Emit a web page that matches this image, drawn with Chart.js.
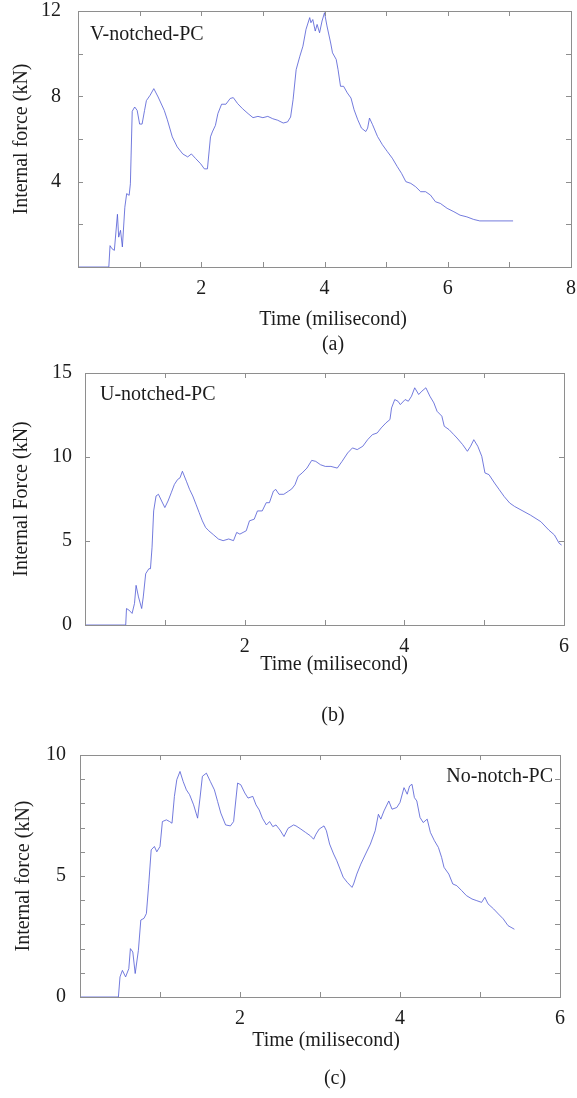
<!DOCTYPE html>
<html>
<head>
<meta charset="utf-8">
<script src="https://cdn.jsdelivr.net/npm/chart.js@4.4.1/dist/chart.umd.min.js"></script>
<style>
  html, body { margin: 0; padding: 0; background: #fff; }
  body { width: 577px; height: 1098px; position: relative; overflow: hidden; }
  .panel { position: absolute; left: 0; width: 577px; }
  canvas { display: block; }
</style>
</head>
<body>
<div class="panel" style="top:0"><canvas id="chartA" width="577" height="360"></canvas></div>
<div class="panel" style="top:360px"><canvas id="chartB" width="577" height="370"></canvas></div>
<div class="panel" style="top:730px"><canvas id="chartC" width="577" height="368"></canvas></div>
<script>
// (a) V-notched-PC
const vTime = [0, 0.50, 0.52, 0.55, 0.59, 0.64, 0.66, 0.69, 0.72, 0.76, 0.79, 0.83, 0.85, 0.88, 0.92, 0.96, 1.00, 1.04, 1.08, 1.11, 1.17, 1.23, 1.30, 1.40, 1.45, 1.53, 1.61, 1.70, 1.78, 1.84, 1.91, 1.99, 2.05, 2.10, 2.15, 2.18, 2.23, 2.27, 2.33, 2.40, 2.47, 2.52, 2.59, 2.67, 2.76, 2.84, 2.92, 3.00, 3.08, 3.16, 3.24, 3.33, 3.40, 3.45, 3.49, 3.54, 3.60, 3.65, 3.70, 3.76, 3.78, 3.81, 3.85, 3.88, 3.92, 3.96, 4.00, 4.04, 4.10, 4.13, 4.19, 4.22, 4.26, 4.31, 4.37, 4.43, 4.48, 4.54, 4.60, 4.67, 4.70, 4.73, 4.78, 4.86, 4.94, 5.02, 5.10, 5.18, 5.25, 5.32, 5.40, 5.48, 5.56, 5.64, 5.72, 5.80, 5.88, 5.99, 6.10, 6.20, 6.31, 6.42, 6.52, 7.06]
const vForce = [0, 0, 1.0, 0.86, 0.78, 2.47, 1.4, 1.72, 0.94, 2.8, 3.44, 3.36, 3.9, 7.3, 7.5, 7.34, 6.7, 6.7, 7.34, 7.8, 8.05, 8.36, 7.97, 7.34, 6.9, 6.1, 5.63, 5.3, 5.16, 5.3, 5.08, 4.84, 4.6, 4.6, 6.1, 6.33, 6.64, 7.19, 7.63, 7.63, 7.9, 7.94, 7.66, 7.42, 7.19, 7.0, 7.06, 7.0, 7.06, 6.95, 6.88, 6.75, 6.8, 7.03, 7.84, 9.25, 9.88, 10.35, 11.14, 11.69, 11.45, 11.6, 11.06, 11.37, 10.98, 11.53, 11.92, 11.3, 10.5, 10.04, 9.73, 9.25, 8.47, 8.47, 8.16, 7.92, 7.37, 6.9, 6.51, 6.35, 6.51, 6.98, 6.67, 6.12, 5.73, 5.41, 5.1, 4.71, 4.39, 4.0, 3.92, 3.76, 3.53, 3.53, 3.37, 3.06, 2.98, 2.75, 2.59, 2.43, 2.35, 2.23, 2.16, 2.16]
const vXLabels = [2, 4, 6, 8]
const vYLabels = [4, 8, 12]

// (b) U-notched-PC
const uTime = [0, 0.51, 0.52, 0.55, 0.59, 0.62, 0.64, 0.67, 0.71, 0.73, 0.76, 0.80, 0.82, 0.84, 0.86, 0.89, 0.92, 0.96, 1.00, 1.04, 1.08, 1.12, 1.16, 1.19, 1.22, 1.27, 1.31, 1.35, 1.39, 1.43, 1.47, 1.51, 1.55, 1.61, 1.67, 1.73, 1.80, 1.86, 1.90, 1.94, 1.98, 2.02, 2.06, 2.12, 2.16, 2.22, 2.27, 2.31, 2.36, 2.39, 2.43, 2.49, 2.55, 2.59, 2.63, 2.67, 2.72, 2.78, 2.84, 2.89, 2.95, 3.01, 3.08, 3.16, 3.22, 3.29, 3.35, 3.41, 3.48, 3.54, 3.60, 3.66, 3.71, 3.77, 3.82, 3.84, 3.88, 3.92, 3.95, 4.01, 4.05, 4.09, 4.13, 4.18, 4.22, 4.27, 4.32, 4.37, 4.41, 4.47, 4.50, 4.56, 4.62, 4.66, 4.73, 4.79, 4.83, 4.87, 4.92, 4.97, 5.01, 5.06, 5.13, 5.19, 5.25, 5.32, 5.38, 5.58, 5.71, 5.81, 5.88, 5.94, 5.97]
const uForce = [0, 0, 0.98, 0.89, 0.69, 1.28, 2.36, 1.67, 0.98, 1.67, 3.05, 3.35, 3.35, 4.63, 6.79, 7.68, 7.78, 7.38, 6.99, 7.38, 7.87, 8.37, 8.66, 8.76, 9.15, 8.56, 8.07, 7.68, 7.19, 6.69, 6.2, 5.81, 5.61, 5.37, 5.12, 5.02, 5.12, 5.02, 5.51, 5.41, 5.51, 5.61, 6.2, 6.3, 6.79, 6.79, 7.28, 7.28, 7.97, 8.07, 7.78, 7.78, 7.97, 8.1, 8.35, 8.85, 9.05, 9.34, 9.8, 9.74, 9.54, 9.44, 9.44, 9.34, 9.74, 10.24, 10.54, 10.44, 10.64, 11.03, 11.33, 11.43, 11.73, 12.03, 12.23, 12.92, 13.42, 13.32, 13.12, 13.42, 13.32, 13.62, 14.12, 13.72, 13.92, 14.12, 13.62, 13.22, 12.72, 12.43, 11.83, 11.63, 11.33, 11.13, 10.74, 10.34, 10.64, 11.03, 10.64, 10.04, 9.05, 8.95, 8.45, 8.05, 7.65, 7.26, 7.06, 6.54, 6.15, 5.65, 5.36, 4.86, 4.76]
const uXLabels = [2, 4, 6]
const uYLabels = [0, 5, 10, 15]

// (c) No-notch-PC
const nTime = [0, 0.48, 0.50, 0.53, 0.57, 0.61, 0.63, 0.66, 0.69, 0.73, 0.76, 0.80, 0.83, 0.86, 0.89, 0.93, 0.96, 1.00, 1.03, 1.08, 1.12, 1.15, 1.18, 1.21, 1.25, 1.29, 1.33, 1.37, 1.42, 1.47, 1.50, 1.53, 1.58, 1.63, 1.68, 1.72, 1.76, 1.82, 1.88, 1.92, 1.97, 2.01, 2.06, 2.10, 2.16, 2.20, 2.24, 2.28, 2.33, 2.37, 2.41, 2.45, 2.50, 2.55, 2.60, 2.67, 2.70, 2.76, 2.82, 2.88, 2.92, 2.95, 2.99, 3.05, 3.08, 3.12, 3.17, 3.21, 3.25, 3.29, 3.34, 3.40, 3.42, 3.46, 3.51, 3.57, 3.63, 3.69, 3.73, 3.76, 3.80, 3.86, 3.90, 3.96, 4.00, 4.05, 4.09, 4.12, 4.15, 4.18, 4.21, 4.25, 4.29, 4.34, 4.38, 4.43, 4.48, 4.52, 4.55, 4.61, 4.66, 4.71, 4.77, 4.83, 4.90, 4.96, 5.02, 5.06, 5.10, 5.17, 5.23, 5.29, 5.35, 5.43]
const nForce = [0, 0, 0.83, 1.1, 0.83, 1.17, 2.0, 1.86, 0.97, 1.93, 3.18, 3.25, 3.45, 4.7, 6.08, 6.22, 6.0, 6.22, 7.25, 7.32, 7.25, 7.18, 8.29, 8.98, 9.32, 8.9, 8.56, 8.36, 7.94, 7.39, 8.22, 9.12, 9.25, 8.9, 8.56, 8.08, 7.6, 7.11, 7.07, 7.25, 8.84, 8.77, 8.43, 8.22, 8.29, 7.94, 7.73, 7.39, 7.11, 7.25, 7.04, 7.11, 6.9, 6.63, 6.97, 7.11, 7.07, 6.94, 6.8, 6.66, 6.52, 6.73, 6.94, 7.07, 6.87, 6.32, 5.91, 5.63, 5.29, 4.95, 4.74, 4.53, 4.67, 5.08, 5.49, 5.91, 6.32, 6.87, 7.55, 7.35, 7.69, 8.1, 7.76, 7.83, 8.04, 8.65, 8.38, 8.72, 8.79, 8.24, 8.1, 7.42, 7.21, 7.35, 6.8, 6.46, 6.18, 5.77, 5.36, 5.08, 4.67, 4.6, 4.4, 4.19, 4.05, 3.98, 3.91, 4.12, 3.85, 3.64, 3.43, 3.23, 2.95, 2.8]
const nXLabels = [2, 4, 6]
const nYLabels = [0, 5, 10]

const axisColor = "#8e8e8e"
const textColor = "#1c1c1c"
const lineColor = "rgba(80, 90, 212, 0.8)"
const serif = "'Liberation Serif', 'Times New Roman', serif"

function points(times, forces) {
  const n = Math.min(times.length, forces.length)
  return times.slice(0, n).map((t, i) => ({ x: t, y: forces[i] }))
}

// box around the plot, inward tick marks on all four sides, titles
const panelFrame = {
  id: "panelFrame",
  afterDraw(chart, args, o) {
    const { ctx, chartArea: a, scales: { x, y } } = chart
    ctx.save()
    ctx.strokeStyle = axisColor
    ctx.lineWidth = 1
    ctx.strokeRect(Math.round(a.left) + 0.5, Math.round(a.top) + 0.5, Math.round(a.right - a.left), Math.round(a.bottom - a.top))

    ctx.beginPath()
    x.ticks.forEach((t) => {
      const px = Math.round(x.getPixelForValue(t.value)) + 0.5
      if (px <= a.left + 1 || px >= a.right - 1) return
      ctx.moveTo(px, a.bottom); ctx.lineTo(px, a.bottom - 5)
      ctx.moveTo(px, a.top); ctx.lineTo(px, a.top + 5)
    })
    y.ticks.forEach((t) => {
      const py = Math.round(y.getPixelForValue(t.value)) + 0.5
      if (py <= a.top + 1 || py >= a.bottom - 1) return
      ctx.moveTo(a.left, py); ctx.lineTo(a.left + 5, py)
      ctx.moveTo(a.right, py); ctx.lineTo(a.right - 5, py)
    })
    ctx.stroke()

    ctx.fillStyle = textColor
    ctx.font = `20px ${serif}`
    ctx.textAlign = "center"
    ctx.textBaseline = "middle"
    ctx.fillText(o.xTitle, o.xTitleX, o.xTitleY)
    ctx.fillText(o.caption, o.captionX, o.captionY)

    ctx.save()
    ctx.translate(o.yTitleX, o.yTitleY)
    ctx.rotate(-Math.PI / 2)
    ctx.fillText(o.yTitle, 0, 0)
    ctx.restore()

    ctx.textAlign = o.noteAlign
    ctx.textBaseline = "alphabetic"
    ctx.fillText(o.note, o.noteX, o.noteY)
    ctx.restore()
  }
}

function drawPanel(canvasId, cfg) {
  const canvas = document.getElementById(canvasId)
  const H = canvas.height
  const tickFont = { family: serif, size: 20 }

  return new Chart(canvas, {
    type: "line",
    data: {
      datasets: [{
        data: points(cfg.time, cfg.force),
        borderColor: lineColor,
        borderWidth: 1,
        pointRadius: 0,
        tension: 0,
        fill: false
      }]
    },
    options: {
      responsive: false,
      animation: false,
      devicePixelRatio: 1,
      layout: { padding: { left: 0, top: cfg.area.top, right: 577 - cfg.area.right, bottom: 0 } },
      plugins: {
        legend: { display: false },
        tooltip: { enabled: false },
        panelFrame: cfg.text
      },
      scales: {
        x: {
          type: "linear",
          min: 0,
          max: cfg.xMax,
          grid: { display: false },
          border: { display: false },
          ticks: {
            stepSize: 1,
            autoSkip: false,
            maxRotation: 0,
            padding: cfg.xPad,
            color: textColor,
            font: tickFont,
            callback: (v) => cfg.xLabels.includes(v) ? String(v) : ""
          },
          afterFit: (s) => {
            s.height = H - cfg.area.bottom
            s.paddingLeft = 0
            s.paddingRight = 0
          }
        },
        y: {
          type: "linear",
          min: 0,
          max: cfg.yMax,
          grid: { display: false },
          border: { display: false },
          ticks: {
            stepSize: cfg.yStep,
            autoSkip: false,
            padding: cfg.yPad,
            color: textColor,
            font: tickFont,
            callback: (v) => cfg.yLabels.includes(v) ? String(v) : ""
          },
          afterFit: (s) => {
            s.width = cfg.area.left
            s.paddingTop = 0
            s.paddingBottom = 0
          }
        }
      }
    },
    plugins: [panelFrame]
  })
}

drawPanel("chartA", {
  time: vTime, force: vForce, xLabels: vXLabels, yLabels: vYLabels,
  xMax: 8, yMax: 12, yStep: 2, xPad: 2, yPad: 9,
  area: { left: 78, right: 571, top: 11, bottom: 267 },
  text: {
    xTitle: "Time (milisecond)", xTitleX: 333, xTitleY: 320,
    caption: "(a)", captionX: 333, captionY: 345,
    yTitle: "Internal force (kN)", yTitleX: 22, yTitleY: 139,
    note: "V-notched-PC", noteX: 90, noteY: 40, noteAlign: "left"
  }
})

drawPanel("chartB", {
  time: uTime, force: uForce, xLabels: uXLabels, yLabels: uYLabels,
  xMax: 6, yMax: 15, yStep: 5, xPad: 2, yPad: 5,
  area: { left: 85, right: 564, top: 13, bottom: 265 },
  text: {
    xTitle: "Time (milisecond)", xTitleX: 334, xTitleY: 305,
    caption: "(b)", captionX: 333, captionY: 356,
    yTitle: "Internal Force (kN)", yTitleX: 22, yTitleY: 139,
    note: "U-notched-PC", noteX: 100, noteY: 40, noteAlign: "left"
  }
})

drawPanel("chartC", {
  time: nTime, force: nForce, xLabels: nXLabels, yLabels: nYLabels,
  xMax: 6, yMax: 10, yStep: 1, xPad: 2, yPad: 6,
  area: { left: 80, right: 560, top: 25, bottom: 267 },
  text: {
    xTitle: "Time (milisecond)", xTitleX: 326, xTitleY: 311,
    caption: "(c)", captionX: 335, captionY: 349,
    yTitle: "Internal force (kN)", yTitleX: 24, yTitleY: 146,
    note: "No-notch-PC", noteX: 553, noteY: 52, noteAlign: "right"
  }
})
</script>
</body>
</html>
